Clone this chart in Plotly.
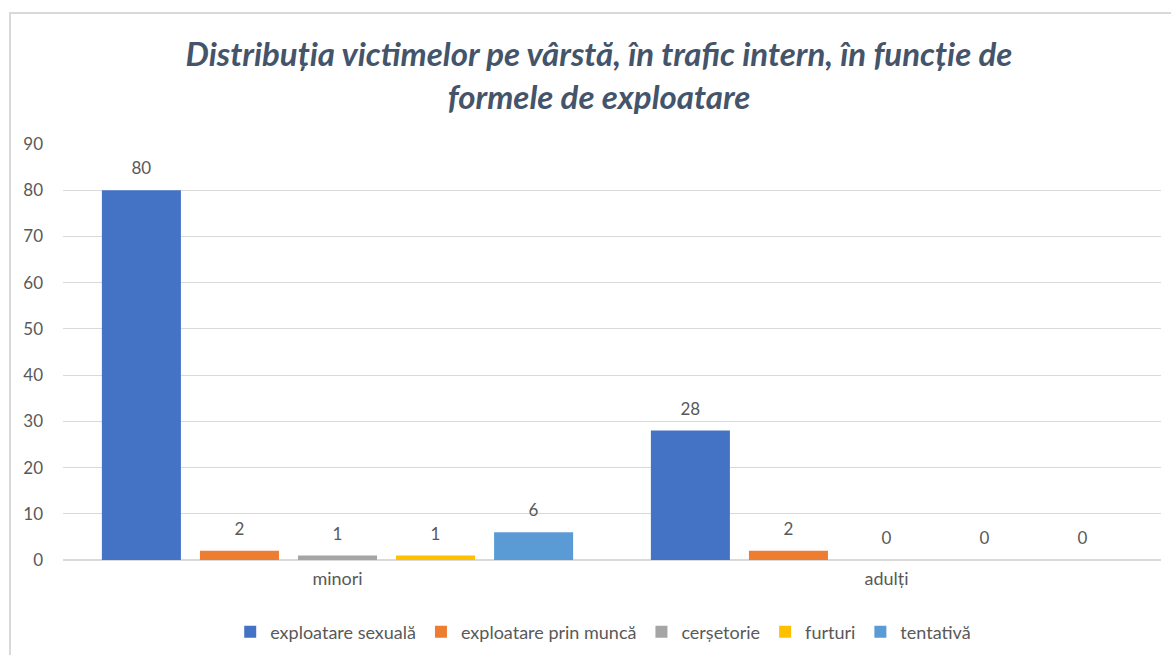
import plotly.graph_objects as go

categories = ["minori", "adulți"]
series_names = ["exploatare sexuală", "exploatare prin muncă", "cerșetorie", "furturi", "tentativă"]
exploatare_sexuala = [80, 28]
exploatare_munca = [2, 2]
cersetorie = [1, 0]
furturi = [1, 0]
tentativa = [6, 0]
y_ticks = [0, 10, 20, 30, 40, 50, 60, 70, 80, 90]

series_values = [exploatare_sexuala, exploatare_munca, cersetorie, furturi, tentativa]
colors = ["#4472C4", "#ED7D31", "#A5A5A5", "#FFC000", "#5B9BD5"]

FONT = "Lato"
TXT = "#595959"
LABEL_PAD = 1.9  # visual gap between bar top and its data label (axis units)

fig = go.Figure()
for i, (name, vals, col) in enumerate(zip(series_names, series_values, colors)):
    fig.add_trace(go.Bar(
        x=categories, y=vals, name=name, offsetgroup=str(i),
        marker=dict(color=col, line=dict(width=0)),
        hoverinfo="name+y",
    ))
for i, vals in enumerate(series_values):
    fig.add_trace(go.Bar(
        x=categories, y=[LABEL_PAD] * len(vals), base=vals, offsetgroup=str(i),
        marker=dict(color="rgba(0,0,0,0)", line=dict(width=0)),
        text=[str(v) for v in vals], textposition="outside",
        textfont=dict(family=FONT, size=17, color=TXT),
        cliponaxis=False, showlegend=False, hoverinfo="skip",
    ))

fig.update_layout(
    width=1171, height=655,
    paper_bgcolor="white", plot_bgcolor="white",
    margin=dict(l=63, r=10, t=144, b=95, autoexpand=False),
    barmode="group", bargap=0.107, bargroupgap=0.194,
    title=dict(
        text="<b><i>Distribuția victimelor pe vârstă, în trafic intern, în funcție de<br>formele de exploatare</i></b>",
        x=599 / 1171, xref="container", xanchor="center", y=0.899, yanchor="top",
        font=dict(family=FONT, size=33, color="#44546A"),
    ),
    legend=dict(
        orientation="h", x=0.492, xanchor="center", y=-0.173, yanchor="middle",
        font=dict(family=FONT, size=18, color=TXT),
        itemwidth=30, traceorder="normal",
    ),
    showlegend=True,
)
fig.update_yaxes(
    range=[0, 90], tickvals=y_ticks, showgrid=True, gridcolor="#D9D9D9", gridwidth=1,
    zeroline=True, zerolinecolor="#D9D9D9", showline=False, automargin=False,
    tickfont=dict(family=FONT, size=17, color=TXT), ticks="", ticklabelstandoff=19,
)
fig.update_xaxes(
    showline=False, ticks="", tickfont=dict(family=FONT, size=18, color=TXT),
    ticklabelstandoff=6, automargin=False,
)
# outer chart border (light frame)
fig.add_shape(type="rect", xref="paper", yref="paper",
              x0=-53 / 1098, x1=1.05, y0=-0.3, y1=1 + (144 - 13) / 416,
              line=dict(color="#D9D9D9", width=2), fillcolor="rgba(0,0,0,0)", layer="below")

fig.write_html("out.html", config={"displayModeBar": False},
               post_script="document.body.style.margin='0';document.body.style.overflow='hidden';")
